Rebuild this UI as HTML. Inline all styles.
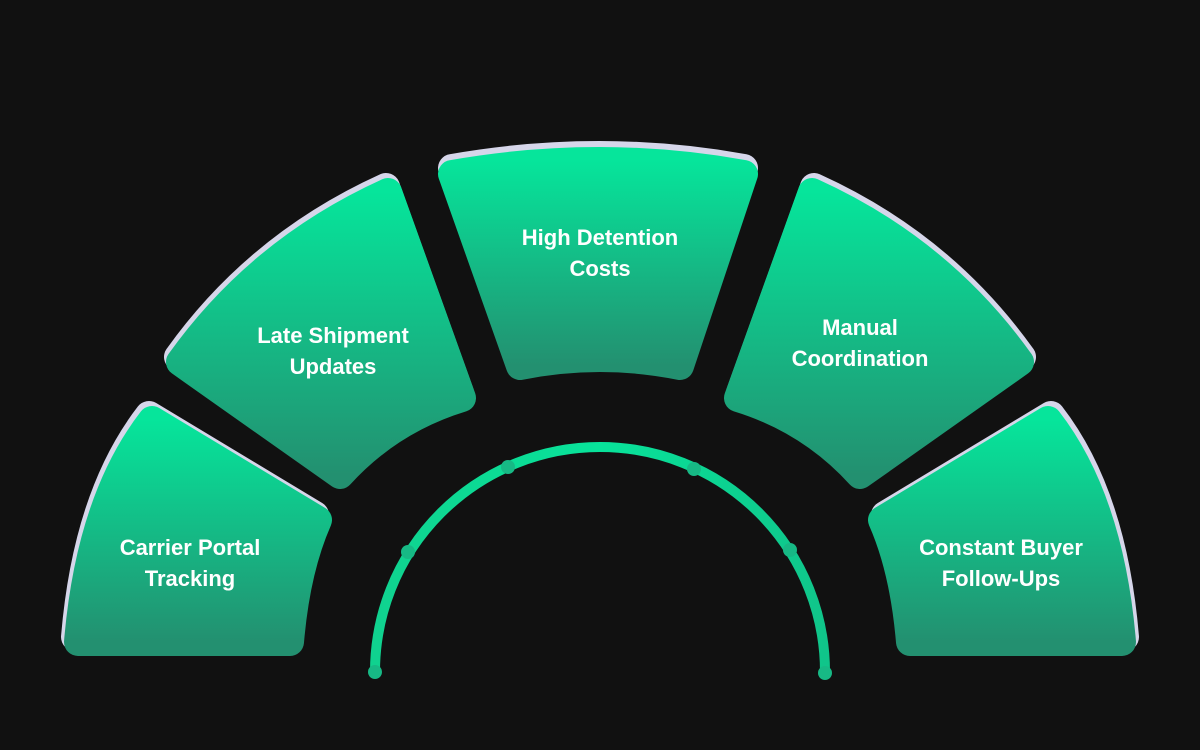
<!DOCTYPE html>
<html><head><meta charset="utf-8"><style>
html,body{margin:0;padding:0;background:#111111;}
svg{display:block}
text{font-family:"Liberation Sans",sans-serif;font-weight:bold;font-size:22px;fill:#fff;text-anchor:middle}
</style></head><body>
<svg width="1200" height="750" viewBox="0 0 1200 750">
<defs>
<linearGradient id="g" x1="0" y1="0" x2="0" y2="1">
<stop offset="0" stop-color="#06e59b"/><stop offset="1" stop-color="#239070"/>
</linearGradient>
<linearGradient id="a" x1="0" y1="0" x2="1" y2="0">
<stop offset="0" stop-color="#10d28f"/><stop offset="0.5" stop-color="#08e39a"/><stop offset="1" stop-color="#10c58a"/>
</linearGradient>
</defs>
<g stroke-linejoin="round" stroke-width="28">
<g fill="#d6d6ea" stroke="#d6d6ea">
<path transform="translate(-3,-5)" d="M78,642 Q90,500 152,420 L318,520 Q296,570 290,642 Z"/>
<path transform="translate(-2,-5)" d="M180,362 Q260,250 388,192 L462,398 Q390,420 340,475 Z"/>
<path transform="translate(0,-6)" d="M452,174 Q600,148 744,174 L680,366 Q600,350 520,366 Z"/>
<path transform="translate(2,-5)" d="M1020,362 Q940,250 812,192 L738,398 Q810,420 860,475 Z"/>
<path transform="translate(3,-5)" d="M1122,642 Q1110,500 1048,420 L882,520 Q904,570 910,642 Z"/>
</g>
<path fill="url(#g)" stroke="url(#g)" d="M78,642 Q90,500 152,420 L318,520 Q296,570 290,642 Z"/>
<path fill="url(#g)" stroke="url(#g)" d="M180,362 Q260,250 388,192 L462,398 Q390,420 340,475 Z"/>
<path fill="url(#g)" stroke="url(#g)" d="M452,174 Q600,148 744,174 L680,366 Q600,350 520,366 Z"/>
<path fill="url(#g)" stroke="url(#g)" d="M1020,362 Q940,250 812,192 L738,398 Q810,420 860,475 Z"/>
<path fill="url(#g)" stroke="url(#g)" d="M1122,642 Q1110,500 1048,420 L882,520 Q904,570 910,642 Z"/>
</g>
<path d="M375,672 A225,225 0 0 1 825,672" fill="none" stroke="url(#a)" stroke-width="10"/>
<g fill="#17b985">
<circle cx="375" cy="672" r="7"/><circle cx="408" cy="552" r="7"/><circle cx="508" cy="467" r="7"/>
<circle cx="694" cy="469" r="7"/><circle cx="790" cy="550" r="7"/><circle cx="825" cy="673" r="7"/>
</g>
<text x="190" y="555">Carrier Portal</text><text x="190" y="586">Tracking</text>
<text x="333" y="343">Late Shipment</text><text x="333" y="374">Updates</text>
<text x="600" y="245">High Detention</text><text x="600" y="276">Costs</text>
<text x="860" y="335">Manual</text><text x="860" y="366">Coordination</text>
<text x="1001" y="555">Constant Buyer</text><text x="1001" y="586">Follow-Ups</text>
</svg>
</body></html>
